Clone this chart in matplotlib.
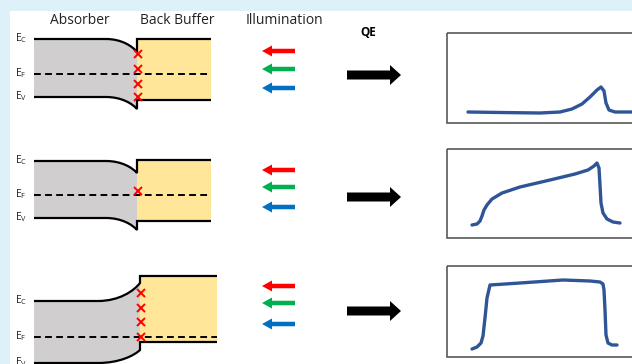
import matplotlib.pyplot as plt
from matplotlib.path import Path
from matplotlib.patches import PathPatch, Rectangle, FancyArrow

plt.rcParams['font.family'] = ['Open Sans', 'DejaVu Sans']
plt.rcParams['mathtext.default'] = 'regular'

# band diagram levels, one entry per row (pixel rows, top = 0)
ec_flat = [39, 161, 301]
ec_junction = [52, 173, 283]
ev_flat = [97, 218, 363]
ev_junction = [109, 230, 350]
ef_level = [74, 195, 337]
buffer_top = [39, 160, 276]
buffer_bottom = [100, 221, 342]
bend_start = [106, 106, 98]
junction_x = [137, 137, 140]
buffer_right = [211, 211, 217]
trap_rows = [[54, 69, 84, 97], [191], [293, 308, 322, 337]]

illum_rows = [[51, 69, 88], [170, 187, 207], [286, 303, 324]]
illum_colors = ['#ff0000', '#00b050', '#0070c0']
qe_arrow_row = [75, 197, 311]
box_top = [33, 149, 266]
box_bottom = [123, 238, 357]

# QE sketches
qe1_x = [468, 500, 540, 560, 572, 582, 590, 597, 601, 604, 606, 609, 615, 632]
qe1_y = [112, 112.5, 113, 112, 109, 104, 97, 90, 87, 91, 103, 110, 112, 112]
qe2_x = [472, 477, 480, 482, 484, 487, 492, 502, 520, 550, 575, 588, 594, 597,
         599, 600, 601, 603, 607, 613, 620]
qe2_y = [225, 224, 221, 216, 210, 205, 199, 193, 187, 180, 174, 170, 166, 163,
         168, 185, 203, 213, 219, 222, 223]
qe3_x = [472, 477, 481, 483, 485, 487, 490, 520, 563, 590, 600, 603, 604, 605,
         606, 608, 612, 617]
qe3_y = [349, 347, 343, 336, 318, 298, 285, 283, 280, 281, 282, 284, 290, 310,
         335, 343, 345, 345]
qe_curves = [(qe1_x, qe1_y), (qe2_x, qe2_y), (qe3_x, qe3_y)]

W, H = 632, 364
fig = plt.figure(figsize=(W / 100, H / 100), dpi=100, facecolor='#def0f8')
ax = fig.add_axes([0, 0, 1, 1])
ax.set_xlim(0, W)
ax.set_ylim(H, 0)
ax.axis('off')
ax.add_patch(Rectangle((10, 11), W, H, facecolor='white', edgecolor='none', zorder=0))

ax.text(80, 21, 'Absorber', ha='center', va='center', fontsize=10, color='#222222')
ax.text(177, 20, 'Back Buffer', ha='center', va='center', fontsize=10, color='#222222')
ax.text(284, 21, 'Illumination', ha='center', va='center', fontsize=10, color='#222222')
ax.text(368, 32, 'QE', ha='center', va='center', fontsize=8.5, fontweight='bold')

x0 = 34
for i in range(3):
    xb, xj, xr = bend_start[i], junction_x[i], buffer_right[i]
    dx = xj - xb
    ec0, ec1 = ec_flat[i], ec_junction[i]
    ev0, ev1 = ev_flat[i], ev_junction[i]

    # absorber region between bent band edges
    verts = [(x0, ec0), (xb, ec0),
             (xb + 0.5 * dx, ec0), (xj - 0.15 * dx, ec0 + 0.55 * (ec1 - ec0)), (xj, ec1),
             (xj, ev1),
             (xj - 0.15 * dx, ev0 + 0.55 * (ev1 - ev0)), (xb + 0.5 * dx, ev0), (xb, ev0),
             (x0, ev0), (x0, ec0)]
    codes = [Path.MOVETO, Path.LINETO,
             Path.CURVE4, Path.CURVE4, Path.CURVE4,
             Path.LINETO,
             Path.CURVE4, Path.CURVE4, Path.CURVE4,
             Path.LINETO, Path.CLOSEPOLY]
    ax.add_patch(PathPatch(Path(verts, codes), facecolor='#d0cece', edgecolor='none', zorder=1))
    ax.add_patch(Rectangle((xj, buffer_top[i]), xr - xj, buffer_bottom[i] - buffer_top[i],
                           facecolor='#ffe699', edgecolor='none', zorder=1))

    # conduction band edge
    ec_path = Path([(x0, ec0), (xb, ec0),
                    (xb + 0.5 * dx, ec0), (xj - 0.15 * dx, ec0 + 0.55 * (ec1 - ec0)), (xj, ec1),
                    (xj, buffer_top[i]), (xr, buffer_top[i])],
                   [Path.MOVETO, Path.LINETO, Path.CURVE4, Path.CURVE4, Path.CURVE4,
                    Path.LINETO, Path.LINETO])
    ax.add_patch(PathPatch(ec_path, fill=False, edgecolor='black', lw=1.6, zorder=3))
    # valence band edge
    ev_path = Path([(x0, ev0), (xb, ev0),
                    (xb + 0.5 * dx, ev0), (xj - 0.15 * dx, ev0 + 0.55 * (ev1 - ev0)), (xj, ev1),
                    (xj, buffer_bottom[i]), (xr, buffer_bottom[i])],
                   [Path.MOVETO, Path.LINETO, Path.CURVE4, Path.CURVE4, Path.CURVE4,
                    Path.LINETO, Path.LINETO])
    ax.add_patch(PathPatch(ev_path, fill=False, edgecolor='black', lw=1.6, zorder=3))

    ax.plot([x0, xr], [ef_level[i], ef_level[i]], color='black', lw=1.4,
            dashes=(3.5, 2.2), zorder=3)
    ax.plot([xj + 1] * len(trap_rows[i]), trap_rows[i], ls='none', marker='x',
            color='#ff0000', ms=6, mew=1.4, zorder=4)

    for lab, yy in zip(['C', 'F', 'V'], [ec0, ef_level[i], ev0]):
        ax.text(15, yy - 1, 'E$_{%s}$' % lab, ha='left', va='center', fontsize=7.5,
                color='#222222')

    for yy, col in zip(illum_rows[i], illum_colors):
        ax.add_patch(FancyArrow(295, yy, -33, 0, width=4.5, head_width=11, head_length=10,
                                length_includes_head=True, color=col, lw=0, zorder=3))
    ax.add_patch(FancyArrow(347, qe_arrow_row[i], 54, 0, width=9, head_width=20, head_length=11,
                            length_includes_head=True, color='black', lw=0, zorder=3))

    ax.add_patch(Rectangle((447, box_top[i]), 300, box_bottom[i] - box_top[i],
                           facecolor='none', edgecolor='#595959', lw=1.2, zorder=2))
    qx, qy = qe_curves[i]
    ax.plot(qx, qy, color='#2f5597', lw=2.4, solid_capstyle='round',
            solid_joinstyle='round', zorder=3)

fig.savefig('out.png', dpi=100, facecolor=fig.get_facecolor())
